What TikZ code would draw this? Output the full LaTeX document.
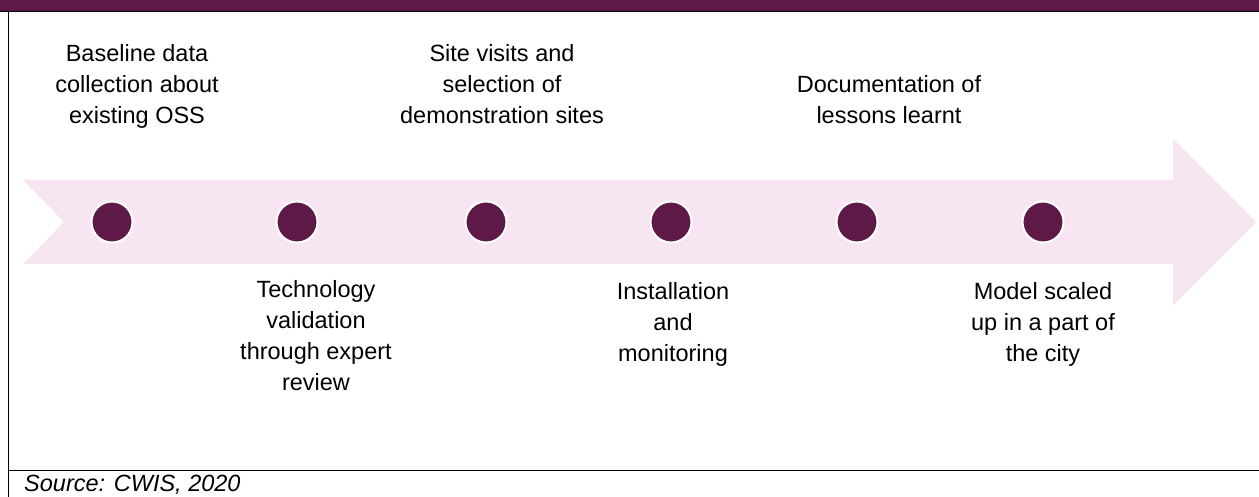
\documentclass[tikz,border=0pt]{standalone}
\usepackage{fontspec}
\setmainfont{Liberation Sans}
\definecolor{plum}{RGB}{94,25,71}
\definecolor{pinkbg}{RGB}{247,230,241}
\begin{document}
\begin{tikzpicture}[x=1pt,y=-1pt,
  lbl/.style={font=\fontsize{23.5}{31}\selectfont, align=center, inner sep=0pt, anchor=base},
  dot/.style={circle, fill=plum, draw=white, line width=2pt, minimum size=41pt, inner sep=0pt},
  rule/.style={line width=1.8pt, black}
]
\useasboundingbox (0,0) rectangle (1259,497);
\fill[white] (0,0) rectangle (1259,497);
% frame
\fill[plum] (0,0) rectangle (1259,11);
\draw[rule] (0,11.5) -- (1259,11.5);
\draw[rule] (8.5,11.5) -- (8.5,497);
\draw[rule] (8.5,470.5) -- (1259,470.5);
% arrow
\fill[pinkbg] (23,180) -- (1173,180) -- (1173,139) -- (1256,222) -- (1173,305)
  -- (1173,264) -- (23,264) -- (64,222) -- cycle;
% dots
\node[dot] (d1) at (112,222) {};
\node[dot] (d2) at (297,222) {};
\node[dot] (d3) at (486,222) {};
\node[dot] (d4) at (671,222) {};
\node[dot] (d5) at (857,222) {};
\node[dot] (d6) at (1043,222) {};
% labels (base anchor = baseline of last line)
\node[lbl] (t1) at (137,124) {Baseline data\\collection about\\existing OSS};
\node[lbl] (t3) at (502,124) {Site visits and\\selection of\\demonstration sites};
\node[lbl] (t5) at (889,124) {Documentation of\\lessons learnt};
\node[lbl] (t2) at (316,390) {Technology\\validation\\through expert\\review};
\node[lbl] (t4) at (673,361) {Installation\\and\\monitoring};
\node[lbl] (t6) at (1043,361) {Model scaled\\up in a part of\\the city};
\node[font=\fontsize{23.5}{28}\selectfont\itshape, anchor=base west, inner sep=0pt] (src) at (24,491) {Source: CWIS, 2020};
\end{tikzpicture}
\end{document}
